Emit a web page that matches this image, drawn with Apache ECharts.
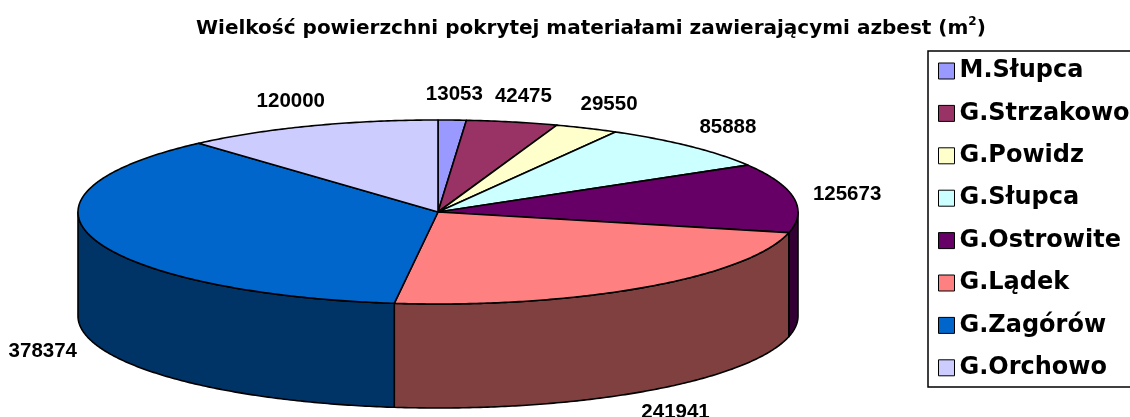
<!DOCTYPE html>
<html><head><meta charset="utf-8">
<script src="https://cdn.jsdelivr.net/npm/echarts@6/dist/echarts.min.js"></script>
<style>html,body{margin:0;padding:0;background:#fff}#c{width:1130px;height:417px}</style>
</head><body><div id="c"></div>
<script>
// ---- data ----
const categories = ['M.Słupca', 'G.Strzakowo', 'G.Powidz', 'G.Słupca', 'G.Ostrowite', 'G.Lądek', 'G.Zagórów', 'G.Orchowo'];
const values = [13053, 42475, 29550, 85888, 125673, 241941, 378374, 120000];
const titleMain = 'Wielkość powierzchni pokrytej materiałami zawierającymi azbest (m';
const titleSup = '2';
const titleEnd = ')';

// ---- styles / layout ----
const colors = ['#9999FF', '#993366', '#FFFFCC', '#CCFFFF', '#660066', '#FF8080', '#0066CC', '#CCCCFF'];
const L = { cx: 438, cy: 212, rx: 360, ry: 92, depth: 104, lrx: 414, lry: 118 };

const total = values.reduce((a, b) => a + b, 0);
function darken(hex) {
  const n = parseInt(hex.slice(1), 16);
  const r = (n >> 16) & 255, g = (n >> 8) & 255, b = n & 255;
  const h = v => Math.round(v * 0.5).toString(16).padStart(2, '0');
  return '#' + h(r) + h(g) + h(b);
}
function pt(t, dy) {
  return [L.cx + L.rx * Math.sin(t), L.cy - L.ry * Math.cos(t) + (dy || 0)];
}
function arcPts(a, b, dy) {
  const n = Math.max(2, Math.ceil((b - a) / 0.01));
  const out = [];
  for (let i = 0; i <= n; i++) out.push(pt(a + (b - a) * i / n, dy));
  return out;
}
function makeRender(idx) {
  return function (params, api) {
    const v = api.value(0);
    let start = 0;
    for (let k = 0; k < idx; k++) start += values[k];
    const a0 = start / total * 2 * Math.PI;
    const a1 = (start + v) / total * 2 * Math.PI;
    const children = [];
    const s0 = Math.max(a0, Math.PI / 2), s1 = Math.min(a1, 3 * Math.PI / 2);
    if (s1 > s0) {
      const top = arcPts(s0, s1, 0);
      const bot = arcPts(s0, s1, L.depth).reverse();
      children.push({
        type: 'polygon', shape: { points: top.concat(bot) },
        style: { fill: darken(colors[idx]), stroke: '#000', lineWidth: 1.6, lineJoin: 'round' }
      });
    }
    const face = [[L.cx, L.cy]].concat(arcPts(a0, a1, 0));
    children.push({
      type: 'polygon', shape: { points: face },
      style: { fill: colors[idx], stroke: '#000', lineWidth: 1.6, lineJoin: 'round' }
    });
    const m = (a0 + a1) / 2;
    let lx = L.cx + L.lrx * Math.sin(m);
    let ly = L.cy - L.lry * Math.cos(m);
    if (Math.cos(m) < 0) ly += L.depth;
    children.push({
      type: 'text',
      style: {
        text: String(v), x: lx, y: ly, align: 'center', verticalAlign: 'middle',
        fontFamily: 'Liberation Sans', fontWeight: 'bold', fontSize: 20.5, fill: '#000'
      }
    });
    return { type: 'group', children };
  };
}

const chart = echarts.init(document.getElementById('c'), null, { renderer: 'canvas' });
chart.setOption({
  animation: false,
  backgroundColor: '#fff',
  title: {
    left: 196, top: 16, padding: 0,
    text: '{a|' + titleMain + '}{s|' + titleSup + '}{a|' + titleEnd + '}',
    textStyle: {
      rich: {
        a: { fontFamily: 'DejaVu Sans', fontWeight: 'bold', fontSize: 20, color: '#000', lineHeight: 26 },
        s: { fontFamily: 'DejaVu Sans', fontWeight: 'bold', fontSize: 12, color: '#000', verticalAlign: 'top', lineHeight: 12 }
      }
    }
  },
  graphic: [{
    type: 'rect', z: -1,
    shape: { x: 928, y: 51, width: 260, height: 336 },
    style: { fill: '#fff', stroke: '#000', lineWidth: 1.5 }
  }],
  legend: {
    orient: 'vertical', left: 928, top: 51,
    padding: [8, 10, 8, 10],
    itemWidth: 16, itemHeight: 16, itemGap: 18.4,
    icon: 'rect', selectedMode: false,
    borderWidth: 0,
    itemStyle: { borderColor: '#000', borderWidth: 1 },
    textStyle: { fontFamily: 'DejaVu Sans', fontWeight: 'bold', fontSize: 24, color: '#000', lineHeight: 24 },
    data: categories
  },
  series: categories.map((name, i) => ({
    type: 'custom', name, coordinateSystem: 'none',
    itemStyle: { color: colors[i] },
    renderItem: makeRender(i),
    data: [values[i]]
  }))
});
</script></body></html>
